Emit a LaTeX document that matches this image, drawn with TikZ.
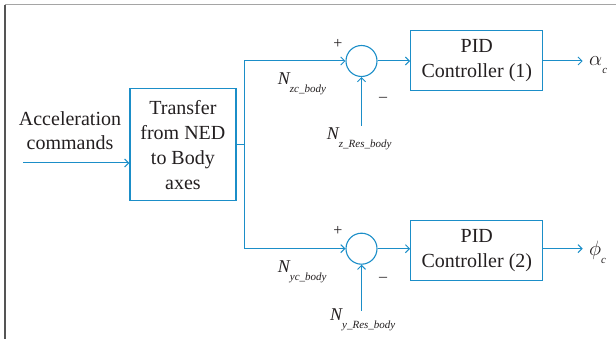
\documentclass[tikz,border=0pt]{standalone}
\usepackage{fontspec}
\setmainfont{Liberation Serif}
\usetikzlibrary{arrows.meta}
\definecolor{lineblue}{RGB}{27,142,200}
\definecolor{textgray}{RGB}{35,31,32}
\definecolor{framedark}{RGB}{85,85,85}
\definecolor{framelight}{RGB}{165,165,165}
\tikzset{
  blk/.style={draw=lineblue, line width=1.3pt, align=center, inner sep=0pt,
    text=textgray, font=\fontsize{20}{25}\selectfont},
  sumnode/.style={draw=lineblue, line width=1.1pt, circle, minimum size=31pt, inner sep=0pt},
  wire/.style={lineblue, line width=1pt},
  sig/.style={wire, -{Straight Barb[length=4pt,width=8pt,line width=1pt]}},
  sgn/.style={text=textgray, inner sep=0pt, font=\fontsize{16}{16}\selectfont},
  nlbl/.style={anchor=base west, inner sep=0pt, text=textgray, font=\fontsize{18}{18}\selectfont\itshape}
}
\newcommand{\sublbl}[1]{\raisebox{-8pt}{\fontsize{11}{11}\selectfont\itshape #1}}
\begin{document}
\begin{tikzpicture}[x=1pt,y=-1pt]
\useasboundingbox (0,0) rectangle (616,339);
% frame
\draw[framelight, line width=1pt] (4.5,5) -- (616,5);
\draw[framedark, line width=2pt] (4.5,5) -- (4.5,339);

% blocks
\node[blk, minimum width=106pt, minimum height=112pt] (tr) at (182.9,144.8)
  {Transfer\\from NED\\to Body\\axes};
\node[blk, minimum width=132pt, minimum height=60pt] (pidz) at (476.8,60.2)
  {PID\\Controller (1)};
\node[blk, minimum width=132pt, minimum height=60pt] (pidy) at (476.8,250.8)
  {PID\\Controller (2)};
\node[sumnode] (sumz) at (361.5,61) {};
\node[sumnode] (sumy) at (361.5,248.7) {};

% input
\node[align=center, inner sep=0pt, text=textgray, font=\fontsize{20}{24}\selectfont]
  (acc) at (70,131) {Acceleration\\commands};
\coordinate (in) at (23,163);
\draw[sig] (in) -- (in -| tr.west);

% bus
\coordinate (bus) at (244.4,145);
\draw[wire] (tr.east |- bus) -- (bus);
\draw[sig] (bus) |- (sumz.west);
\draw[sig] (bus) |- (sumy.west);
\draw[sig] (sumz.east) -- (sumz -| pidz.west);
\draw[sig] (sumy.east) -- (sumy -| pidy.west);

% feedback
\coordinate (fbz) at (361.5,125.7);
\coordinate (fby) at (361.5,310.5);
\draw[sig] (fbz) -- (sumz.south);
\draw[sig] (fby) -- (sumy.south);

% outputs
\coordinate (outz) at (582.7,61);
\coordinate (outy) at (582.7,248.7);
\draw[sig] (sumz -| pidz.east) -- (outz);
\draw[sig] (sumy -| pidy.east) -- (outy);
\node[anchor=base west, inner sep=0pt, text=textgray] (alpha) at (589,66)
  {\fontsize{22}{22}\selectfont$\alpha$\sublbl{c}};
\node[anchor=base west, inner sep=0pt, text=textgray] (phi) at (589,256)
  {\fontsize{22}{22}\selectfont$\phi$\sublbl{c}};

% signs
\node[sgn] (pz) at (338,44) {+};
\node[sgn] (mz) at (383,99) {\textendash};
\node[sgn] (py) at (338,231) {+};
\node[sgn] (my) at (383,279) {\textendash};

% signal names
\node[nlbl] (nzc) at (277.7,85) {N\sublbl{zc\_body}};
\node[nlbl] (nzr) at (326.7,140) {N\sublbl{z\_Res\_body}};
\node[nlbl] (nyc) at (277.7,272.7) {N\sublbl{yc\_body}};
\node[nlbl] (nyr) at (330,320) {N\sublbl{y\_Res\_body}};
\end{tikzpicture}
\end{document}
